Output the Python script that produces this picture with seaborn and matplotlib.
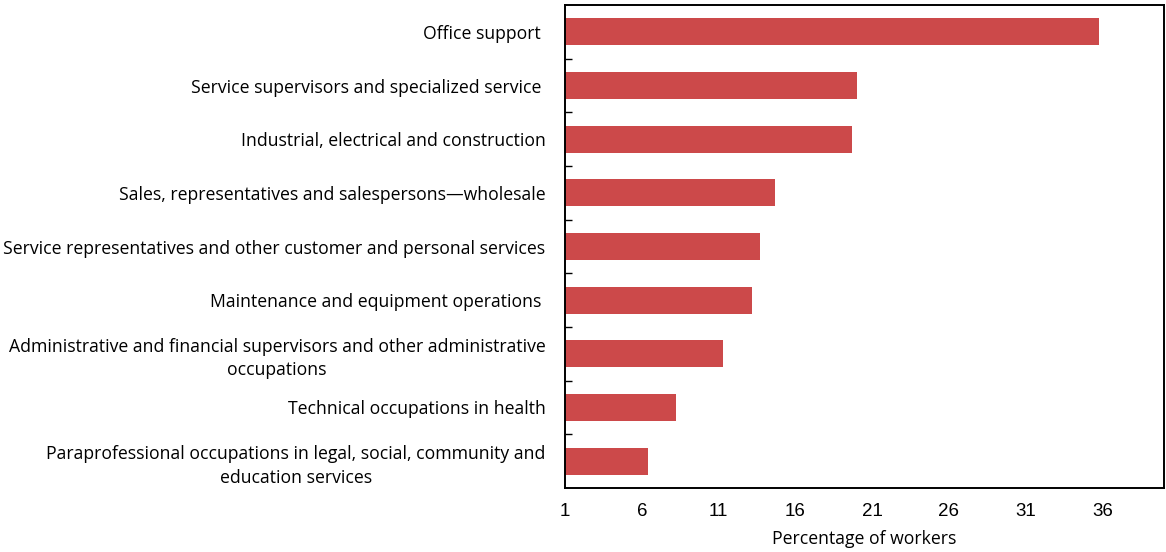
import matplotlib
matplotlib.use("Agg")
import matplotlib.pyplot as plt
import seaborn as sns
import pandas as pd

# occupations (top to bottom) and share of workers, %
occupations = [
    "Office support ",
    "Service supervisors and specialized service ",
    "Industrial, electrical and construction",
    "Sales, representatives and salespersons\u2014wholesale",
    "Service representatives and other customer and personal services",
    "Maintenance and equipment operations ",
    "Administrative and financial supervisors and other administrative\noccupations",
    "Technical occupations in health",
    "Paraprofessional occupations in legal, social, community and\neducation services",
]
share = [35.8, 20.0, 19.7, 14.7, 13.7, 13.2, 11.3, 8.2, 6.4]
xticks = [1, 6, 11, 16, 21, 26, 31, 36]

df = pd.DataFrame({"occupation": occupations, "share": share})

sns.set_style("white")
plt.rcParams["font.family"] = ["Open Sans", "DejaVu Sans"]
plt.rcParams["text.color"] = "black"
plt.rcParams["xtick.color"] = "black"
plt.rcParams["ytick.color"] = "black"
plt.rcParams["axes.labelcolor"] = "black"

fig = plt.figure(figsize=(11.66, 5.52), dpi=100)
ax = fig.add_axes([565 / 1166, 1 - 488 / 552, 599 / 1166, 483 / 552])

sns.barplot(data=df, x="share", y="occupation", color="#cc494a",
            saturation=1, width=0.5, orient="h", ax=ax, edgecolor="none")

ax.set_xlim(1, 40)
ax.set_ylim(len(occupations) - 0.5, -0.5)
ax.set_xticks(xticks)
ax.set_xticklabels([str(t) for t in xticks], fontsize=13.5,
                   family=["Liberation Sans", "DejaVu Sans"])
ax.tick_params(axis="x", length=0, pad=11)
ax.tick_params(axis="y", which="major", length=0, pad=14)
for lab in ax.get_yticklabels():
    lab.set_fontsize(12.7)
    lab.set_multialignment("center")
    lab.set_linespacing(1.4)

# small inward ticks between the categories
ax.set_yticks([i + 0.5 for i in range(len(occupations) - 1)], minor=True)
ax.tick_params(axis="y", which="minor", direction="in", length=5,
               width=1, color="black", left=True)

ax.set_xlabel("Percentage of workers", fontsize=12.7, labelpad=7)
ax.set_ylabel("")

for s in ax.spines.values():
    s.set_visible(True)
    s.set_color("black")
    s.set_linewidth(1.4)

fig.savefig("out.png", dpi=100)
